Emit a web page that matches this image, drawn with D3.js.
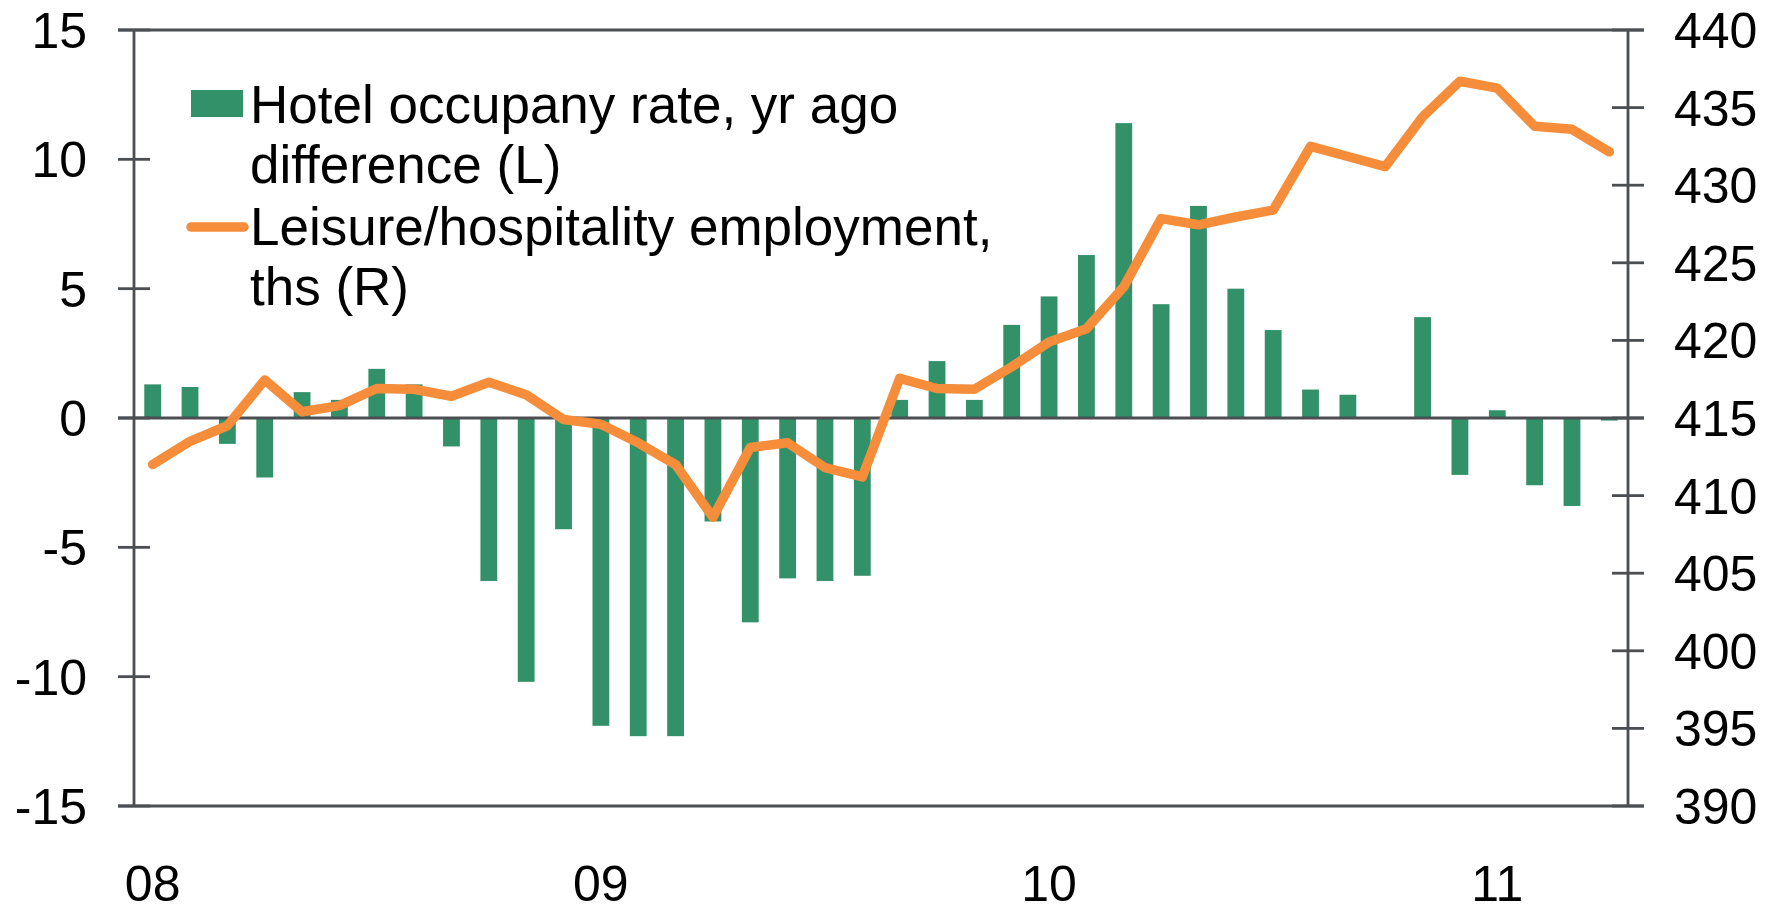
<html>
<head>
<style>
  body { margin: 0; background: #fff; }
  svg text { font-family: "Liberation Sans", Arial, sans-serif; fill: #000; }
</style>
</head>
<body>
<svg id="chart" width="1781" height="909"></svg>
<script src="https://cdnjs.cloudflare.com/ajax/libs/d3/7.8.5/d3.min.js"></script>
<script>
// monthly, Jan 2008 .. Apr 2011
var months = [];
for (var yr = 2008; yr <= 2011; yr++) {
    for (var m = 1; m <= 12; m++) {
        if (yr == 2011 && m > 4) break;
        months.push(yr + "-" + (m < 10 ? "0" + m : m));
    }
}

var hotelOcc = [1.3, 1.2, -1.0, -2.3, 1.0, 0.7, 1.9, 1.3, -1.1, -6.3, -10.2, -4.3,
    -11.9, -12.3, -12.3, -4.0, -7.9, -6.2, -6.3, -6.1, 0.7, 2.2, 0.7, 3.6,
    4.7, 6.3, 11.4, 4.4, 8.2, 5.0, 3.4, 1.1, 0.9, 0, 3.9, -2.2,
    0.3, -2.6, -3.4, -0.1];

var leisureEmp = [412.0, 413.5, 414.5, 417.45, 415.4, 415.8, 416.9, 416.85, 416.4, 417.3, 416.5, 414.9,
    414.6, 413.4, 412.0, 408.6, 413.1, 413.4, 411.8, 411.2, 417.55, 416.9, 416.85, 418.3,
    419.9, 420.75, 423.45, 427.85, 427.45, 427.95, 428.4, 432.5, 431.85, 431.2, 434.4, 436.7,
    436.25, 433.8, 433.6, 432.15];

var yearTicks = ["2008-01", "2009-01", "2010-01", "2011-01"];
var yearLabels = ["08", "09", "10", "11"];
var leftTicks = [15, 10, 5, 0, -5, -10, -15];
var rightTicks = [440, 435, 430, 425, 420, 415, 410, 405, 400, 395, 390];

var legendNames = [["Hotel occupany rate, yr ago", "difference (L)"],
    ["Leisure/hospitality employment,", "ths (R)"]];

var green = "#33916a", orange = "#f58d3b", axisCol = "#4b4e52";

var plotL = 134, plotR = 1628, plotT = 30, plotB = 806;
var svg = d3.select("#chart");

var x = d3.scaleBand().domain(months).range([plotL, plotR]).paddingInner(0.55).paddingOuter(0.275);
var yL = d3.scaleLinear().domain([-15, 15]).range([plotB, plotT]);
var yR = d3.scaleLinear().domain([390, 440]).range([plotB, plotT]);

// bars
svg.append("g").selectAll("rect")
    .data(hotelOcc)
    .enter().append("rect")
    .attr("x", (d, i) => x(months[i]))
    .attr("width", x.bandwidth())
    .attr("y", d => yL(Math.max(0, d)))
    .attr("height", d => Math.abs(yL(d) - yL(0)))
    .attr("fill", green);

// frame + axes
var axisG = svg.append("g").attr("stroke", axisCol).attr("stroke-width", 2.8);
axisG.append("line").attr("x1", plotL).attr("x2", plotL).attr("y1", plotT).attr("y2", plotB);
axisG.append("line").attr("x1", plotR).attr("x2", plotR).attr("y1", plotT).attr("y2", plotB);
axisG.append("line").attr("x1", plotL - 16).attr("x2", plotR + 16).attr("y1", plotT).attr("y2", plotT);
axisG.append("line").attr("x1", plotL - 16).attr("x2", plotR + 16).attr("y1", plotB).attr("y2", plotB);
axisG.append("line").attr("x1", plotL - 16).attr("x2", plotR + 16).attr("y1", yL(0)).attr("y2", yL(0));

axisG.selectAll(".lt").data(leftTicks).enter().append("line")
    .attr("x1", plotL - 16).attr("x2", plotL + 16)
    .attr("y1", d => yL(d)).attr("y2", d => yL(d));
axisG.selectAll(".rt").data(rightTicks).enter().append("line")
    .attr("x1", plotR - 16).attr("x2", plotR + 16)
    .attr("y1", d => yR(d)).attr("y2", d => yR(d));

// tick labels
svg.append("g").selectAll("text").data(leftTicks).enter().append("text")
    .attr("x", 87).attr("y", d => yL(d)).attr("dy", "0.36em")
    .attr("text-anchor", "end").attr("font-size", 50)
    .text(d => d);
svg.append("g").selectAll("text").data(rightTicks).enter().append("text")
    .attr("x", 1674).attr("y", d => yR(d)).attr("dy", "0.36em")
    .attr("text-anchor", "start").attr("font-size", 50)
    .text(d => d);
svg.append("g").selectAll("text").data(yearTicks).enter().append("text")
    .attr("x", d => x(d) + x.bandwidth() / 2).attr("y", 901)
    .attr("text-anchor", "middle").attr("font-size", 50)
    .text((d, i) => yearLabels[i]);

// employment line
var line = d3.line()
    .x((d, i) => x(months[i]) + x.bandwidth() / 2)
    .y(d => yR(d));
svg.append("path").datum(leisureEmp)
    .attr("d", line)
    .attr("fill", "none")
    .attr("stroke", orange)
    .attr("stroke-width", 9.5)
    .attr("stroke-linejoin", "round")
    .attr("stroke-linecap", "round");

// legend
var leg = svg.append("g");
leg.append("rect").attr("x", 191).attr("y", 90).attr("width", 52).attr("height", 27).attr("fill", green);
leg.append("line").attr("x1", 191).attr("x2", 244).attr("y1", 227).attr("y2", 227)
    .attr("stroke", orange).attr("stroke-width", 9.5).attr("stroke-linecap", "round");
var baselines = [[123, 183], [245, 305]];
legendNames.forEach(function (lines, k) {
    lines.forEach(function (t, j) {
        leg.append("text").attr("x", 250).attr("y", baselines[k][j])
            .attr("font-size", 53).text(t);
    });
});
</script>
</body>
</html>
